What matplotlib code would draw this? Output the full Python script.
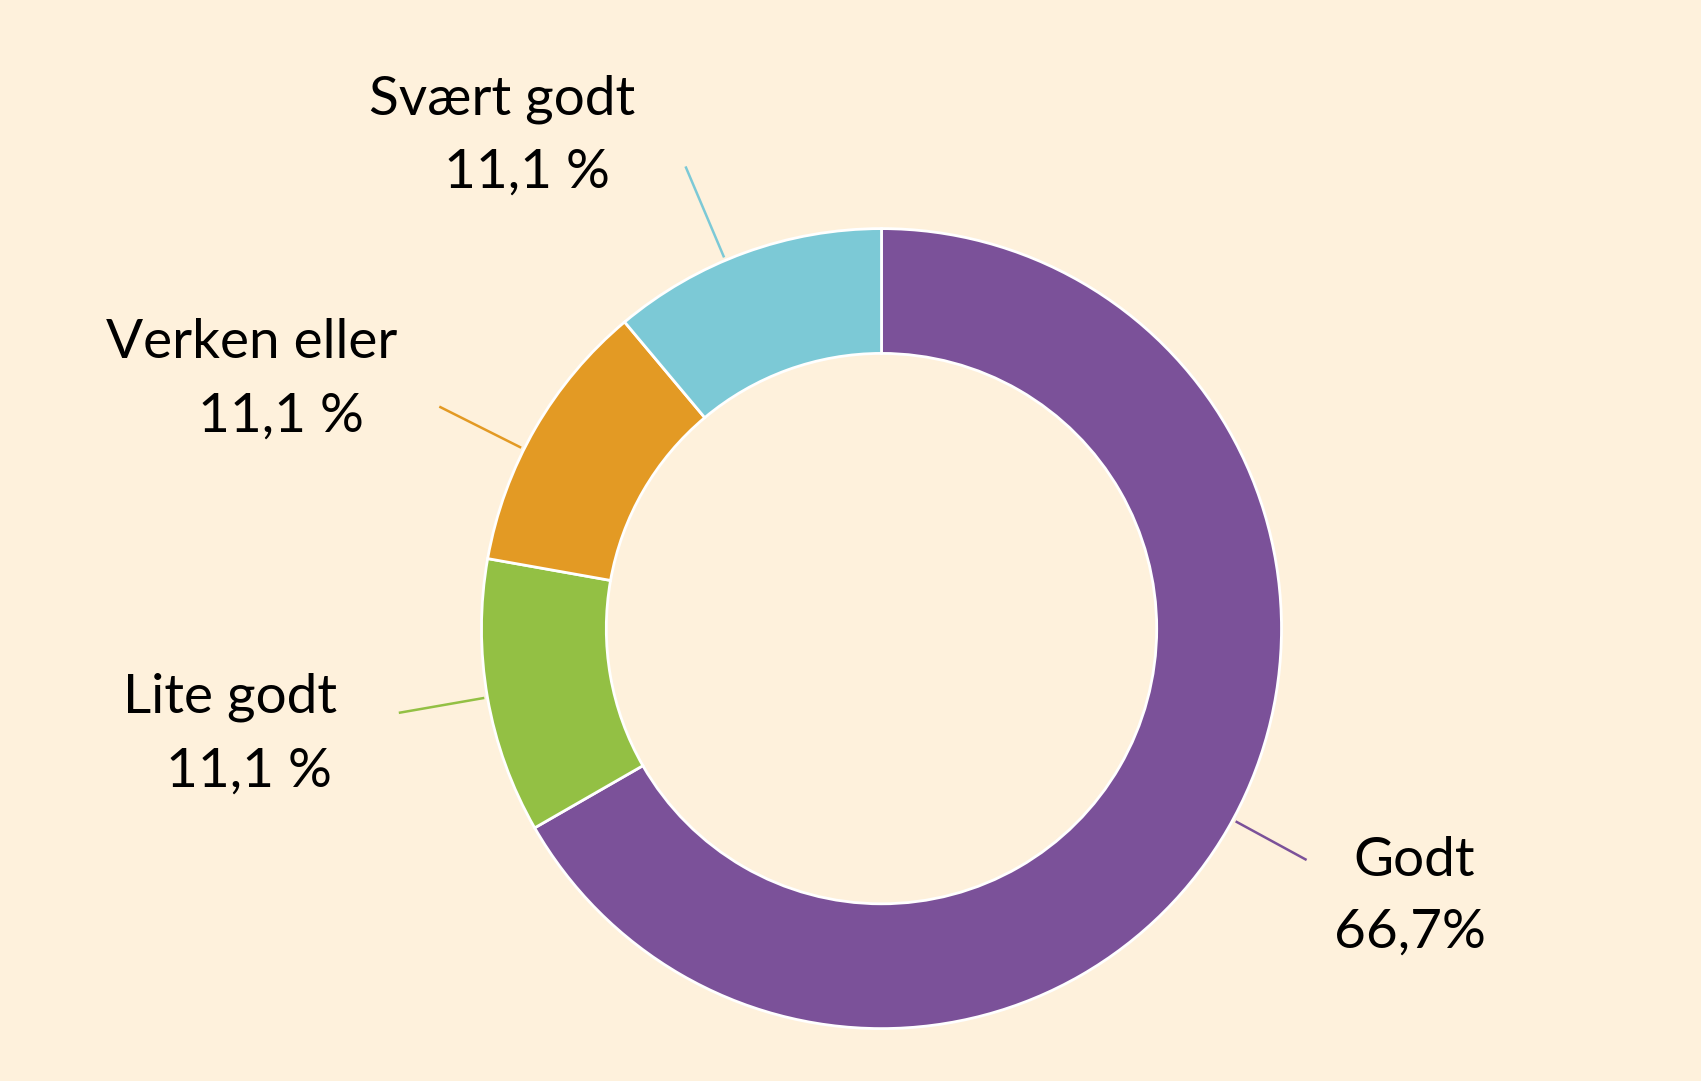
import numpy as np
import matplotlib
matplotlib.use("Agg")
import matplotlib.pyplot as plt

# Data
categories = ["Godt", "Lite godt", "Verken eller", "Svært godt"]
values = [66.7, 11.1, 11.1, 11.1]
value_labels = ["66,7%", "11,1 %", "11,1 %", "11,1 %"]
colors = ["#7B5199", "#93C044", "#E39A24", "#7CC9D6"]

BG = "#FEF1DC"
W, H = 1701, 1081
CX, CY, R = 881.5, 628.6, 400.0  # pixel center / radius

fig = plt.figure(figsize=(W / 100, H / 100), dpi=100, facecolor=BG)
ax = fig.add_axes([0, 0, 1, 1])
ax.set_facecolor(BG)


def px(x, y):
    return (x - CX) / R, (CY - y) / R


wedges, _ = ax.pie(values, colors=colors, startangle=90, counterclock=False,
                   radius=1.0, center=(0, 0),
                   wedgeprops=dict(width=0.312, edgecolor="white", linewidth=2.0))

ax.set_xlim(-CX / R, (W - CX) / R)
ax.set_ylim(-(H - CY) / R, CY / R)
ax.set_aspect("equal")
ax.axis("off")

# leader lines (radial, from wedge mid-angle), with small per-label angle tweak
angle_tweak = [1.5, 0.0, 3.4, 3.0]
r_out = [1.21, 1.225, 1.237, 1.255]
for w, c, dt, ro in zip(wedges, colors, angle_tweak, r_out):
    mid = np.deg2rad((w.theta1 + w.theta2) / 2 + dt)
    ax.plot([1.008 * np.cos(mid), ro * np.cos(mid)],
            [1.008 * np.sin(mid), ro * np.sin(mid)], color=c, lw=1.8,
            solid_capstyle="butt")

# label positions (pixel centers/baselines)
name_pos = [(1414.5, 876), (230, 712), (252, 358), (502.5, 115)]
val_pos = [(1410, 948), (249, 787), (281, 432), (527, 188)]
FONT = "Lato"
FS = 39.5
for cat, vl, npos, vpos in zip(categories, value_labels, name_pos, val_pos):
    ax.text(*px(*npos), cat, ha="center", va="baseline", fontsize=FS,
            family=FONT, color="black")
    ax.text(*px(*vpos), vl, ha="center", va="baseline", fontsize=FS,
            family=FONT, color="black")

fig.savefig("out.png", dpi=100, facecolor=BG)
